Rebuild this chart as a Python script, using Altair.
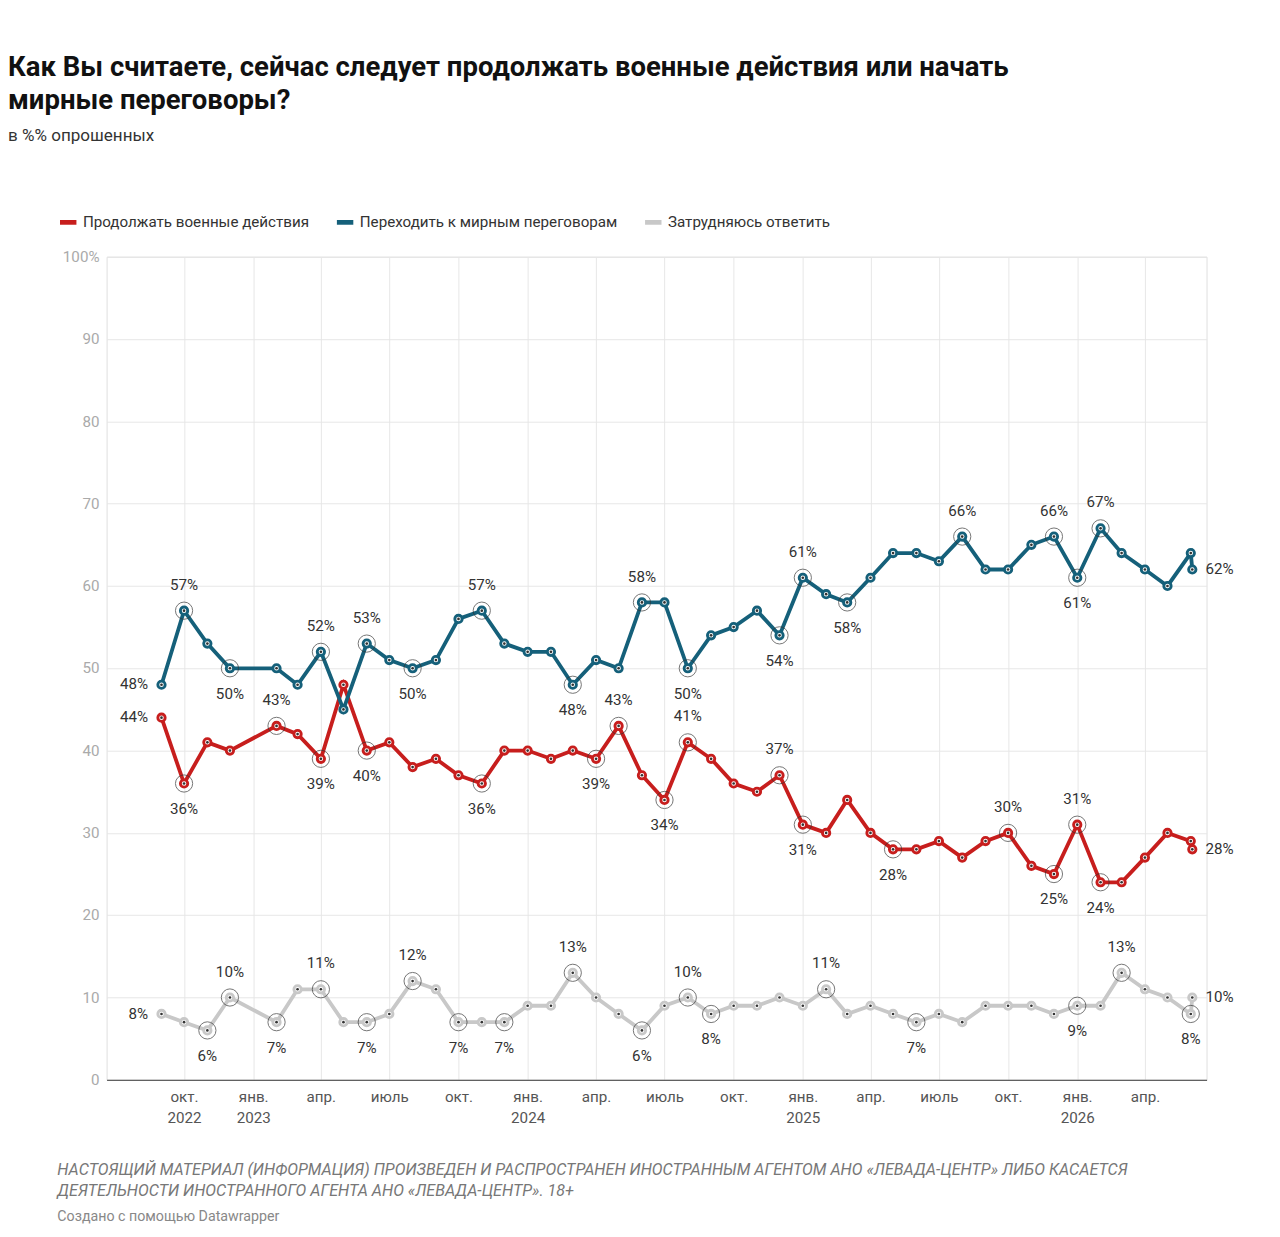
import altair as alt
import pandas as pd

dates = ["2022-09-01", "2022-10-01", "2022-11-01", "2022-12-01", "2023-02-01", "2023-03-01",
         "2023-04-01", "2023-05-01", "2023-06-01", "2023-07-01", "2023-08-01", "2023-09-01",
         "2023-10-01", "2023-11-01", "2023-12-01", "2024-01-01", "2024-02-01", "2024-03-01",
         "2024-04-01", "2024-05-01", "2024-06-01", "2024-07-01", "2024-08-01", "2024-09-01",
         "2024-10-01", "2024-11-01", "2024-12-01", "2025-01-01", "2025-02-01", "2025-03-01",
         "2025-04-01", "2025-05-01", "2025-06-01", "2025-07-01", "2025-08-01", "2025-09-01",
         "2025-10-01", "2025-11-01", "2025-12-01", "2026-01-01", "2026-02-01", "2026-03-01",
         "2026-04-01", "2026-05-01", "2026-06-01", "2026-06-03"]
peace = [48, 57, 53, 50, 50, 48, 52, 45, 53, 51, 50, 51, 56, 57, 53, 52, 52, 48, 51, 50, 58, 58,
         50, 54, 55, 57, 54, 61, 59, 58, 61, 64, 64, 63, 66, 62, 62, 65, 66, 61, 67, 64, 62, 60, 64, 62]
war = [44, 36, 41, 40, 43, 42, 39, 48, 40, 41, 38, 39, 37, 36, 40, 40, 39, 40, 39, 43, 37, 34,
       41, 39, 36, 35, 37, 31, 30, 34, 30, 28, 28, 29, 27, 29, 30, 26, 25, 31, 24, 24, 27, 30, 29, 28]
unsure = [8, 7, 6, 10, 7, 11, 11, 7, 7, 8, 12, 11, 7, 7, 7, 9, 9, 13, 10, 8, 6, 9, 10, 8, 9, 9,
          10, 9, 11, 8, 9, 8, 7, 8, 7, 9, 9, 9, 8, 9, 9, 13, 11, 10, 8, 10]

series = ["Продолжать военные действия", "Переходить к мирным переговорам", "Затрудняюсь ответить"]
colors = ["#c71e1d", "#15607a", "#c8c8c8"]

# labelled points: (index, position)  l=left, a=above, b=below, r=right
peace_labels = [(0, "l"), (1, "a"), (3, "b"), (6, "a"), (8, "a"), (10, "b"), (13, "a"), (17, "b"),
                (20, "a"), (22, "b"), (26, "b"), (27, "a"), (29, "b"), (34, "a"), (38, "a"),
                (39, "b"), (40, "a"), (45, "r")]
war_labels = [(0, "l"), (1, "b"), (4, "a"), (6, "b"), (8, "b"), (13, "b"), (18, "b"), (19, "a"),
              (21, "b"), (22, "a"), (26, "a"), (27, "b"), (31, "b"), (36, "a"), (38, "b"),
              (39, "a"), (40, "b"), (45, "r")]
unsure_labels = [(0, "l"), (2, "b"), (3, "a"), (4, "b"), (6, "a"), (8, "b"), (10, "a"), (12, "b"),
                 (14, "b"), (17, "a"), (20, "b"), (22, "a"), (23, "b"), (28, "a"), (32, "b"),
                 (39, "b"), (41, "a"), (44, "b"), (45, "r")]

rows = []
for name, vals in zip(series, [war, peace, unsure]):
    for d, v in zip(dates, vals):
        rows.append({"date": d, "value": v, "series": name})
df = pd.DataFrame(rows)

lab = []
for name, vals, labs in zip(series, [war, peace, unsure], [war_labels, peace_labels, unsure_labels]):
    for i, p in labs:
        lab.append({"date": dates[i], "value": vals[i], "series": name, "pos": p,
                    "txt": f"{vals[i]}%"})
ldf = pd.DataFrame(lab)

W, H = 1160, 868
L = -52  # left edge of the texts relative to the plot
months = "['янв.','','','апр.','','','июль','','','окт.'][utcmonth(datum.value)]"
x = alt.X("date:T", title=None,
          scale=alt.Scale(type="utc", domain=["2022-06-20", "2026-06-22"]),
          axis=alt.Axis(values=["2022-10-01", "2023-01-01", "2023-04-01", "2023-07-01", "2023-10-01",
                                "2024-01-01", "2024-04-01", "2024-07-01", "2024-10-01", "2025-01-01",
                                "2025-04-01", "2025-07-01", "2025-10-01", "2026-01-01", "2026-04-01"],
                        labelExpr="(utcmonth(datum.value)==0 || utcyear(datum.value)==2022) ? "
                                  f"[{months}, utcyear(datum.value)+''] : {months}",
                        grid=True, gridColor="#e6e6e6", ticks=False, domainColor="#333",
                        labelFontSize=16, labelColor="#555", labelPadding=10, labelLineHeight=22))
y = alt.Y("value:Q", title=None, scale=alt.Scale(domain=[0, 100]),
          axis=alt.Axis(values=list(range(0, 101, 10)), labelExpr="datum.value==100 ? '100%' : datum.value",
                        grid=True, gridColor="#e6e6e6", ticks=False, domain=False,
                        labelFontSize=16, labelColor="#aaa", labelPadding=8))
color = alt.Color("series:N", scale=alt.Scale(domain=series, range=colors),
                  legend=alt.Legend(title=None, orient="none", legendX=L, legendY=-48,
                                    direction="horizontal", symbolType="stroke",
                                    symbolStrokeWidth=5, symbolSize=300, labelFontSize=16,
                                    labelColor="#333", columnPadding=18, labelLimit=400))

base = alt.Chart(df)
lines = base.mark_line(strokeWidth=4).encode(x=x, y=y, color=color)
pts = base.mark_point(filled=True, size=60, fill="white", strokeWidth=3, opacity=1).encode(
    x="date:T", y="value:Q", stroke=alt.Stroke("series:N", scale=alt.Scale(domain=series, range=colors), legend=None))
dots = base.mark_point(filled=True, size=8, fill="#333", opacity=1).encode(x="date:T", y="value:Q")

lb = alt.Chart(ldf)
rings = lb.transform_filter("datum.pos != 'r' && datum.pos != 'l'").mark_point(
    size=330, stroke="#333", strokeWidth=1, filled=False).encode(x="date:T", y="value:Q")
tx = dict(fontSize=16, color="#333", font="Roboto")
above = lb.transform_filter("datum.pos=='a'").mark_text(dy=-27, **tx).encode(x="date:T", y="value:Q", text="txt:N")
below = lb.transform_filter("datum.pos=='b'").mark_text(dy=27, **tx).encode(x="date:T", y="value:Q", text="txt:N")
left = lb.transform_filter("datum.pos=='l'").mark_text(dx=-14, align="right", **tx).encode(x="date:T", y="value:Q", text="txt:N")
right = lb.transform_filter("datum.pos=='r'").mark_text(dx=14, align="left", **tx).encode(x="date:T", y="value:Q", text="txt:N")

foot1 = alt.Chart(pd.DataFrame({"t": ["НАСТОЯЩИЙ МАТЕРИАЛ (ИНФОРМАЦИЯ) ПРОИЗВЕДЕН И РАСПРОСТРАНЕН ИНОСТРАННЫМ АГЕНТОМ АНО «ЛЕВАДА-ЦЕНТР» ЛИБО КАСАЕТСЯ",
                                      "ДЕЯТЕЛЬНОСТИ ИНОСТРАННОГО АГЕНТА АНО «ЛЕВАДА-ЦЕНТР». 18+"],
                                "yy": [H + 95, H + 118]})).mark_text(
    align="left", fontSize=17, fontStyle="italic", color="#777", font="Roboto").encode(
    x=alt.value(L), y=alt.Y("yy:Q", scale=None), text="t:N")
foot2 = alt.Chart(pd.DataFrame({"t": ["Создано с помощью Datawrapper"]})).mark_text(
    align="left", fontSize=15, color="#888", font="Roboto").encode(x=alt.value(L), y=alt.value(H + 144), text="t:N")

chart = alt.layer(lines, pts, dots, rings, above, below, left, right, foot1, foot2).properties(
    width=W, height=H,
    title=alt.TitleParams(
        ["Как Вы считаете, сейчас следует продолжать военные действия или начать", "мирные переговоры?"],
        subtitle="в %% опрошенных", anchor="start", fontSize=29, font="Roboto", fontWeight="bold",
        color="#111", subtitleFontSize=18, subtitleColor="#333", subtitleFont="Roboto",
        subtitlePadding=14, offset=70, dx=L, lineHeight=35),
    padding={"left": 0, "top": 10, "right": 40, "bottom": 160},
).configure_view(stroke=None).configure(font="Roboto").configure_legend(padding=0, labelFont="Roboto")

chart.save("out.html", embed_options={"renderer": "svg", "actions": False})
